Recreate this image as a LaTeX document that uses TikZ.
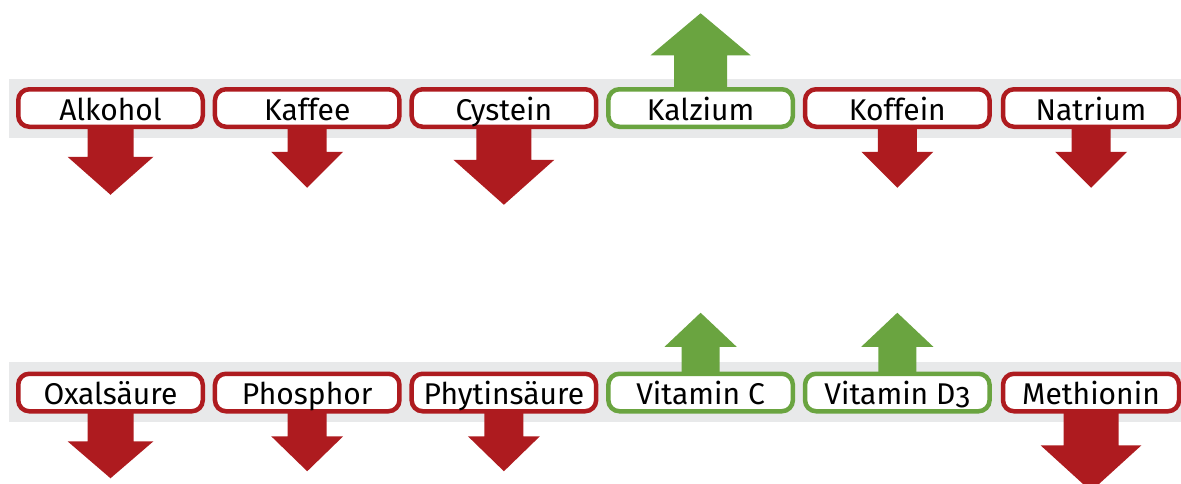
\documentclass[tikz,border=0pt]{standalone}
\usepackage{fontspec}
\setmainfont{Fira Sans}
\usetikzlibrary{backgrounds}
\definecolor{redc}{RGB}{174,27,31}
\definecolor{greenc}{RGB}{106,164,64}
\definecolor{bandc}{RGB}{232,233,234}

% down arrow below a box: node, shaft width, head width, head top, tip
\newcommand\dropdown[5]{%
  \begin{scope}[shift={(#1.south)}]
    \fill[redc] (-#2/2,-12) -- (#2/2,-12) -- (#2/2,#4) -- (#3/2,#4) -- (0,#5)
      -- (-#3/2,#4) -- (-#2/2,#4) -- cycle;
  \end{scope}}
% up arrow above a box: node, shaft width, head width, head base, tip
\newcommand\riseup[5]{%
  \begin{scope}[shift={(#1.north)}]
    \fill[greenc] (-#2/2,12) -- (#2/2,12) -- (#2/2,-#4) -- (#3/2,-#4) -- (0,-#5)
      -- (-#3/2,-#4) -- (-#2/2,-#4) -- cycle;
  \end{scope}}

\begin{document}
\begin{tikzpicture}[x=1pt,y=-1pt,
  labelbox/.style={draw, line width=4.5pt, rounded corners=11pt, fill=white,
    minimum width=184.5pt, minimum height=37.5pt, inner sep=0pt, outer sep=0pt,
    text height=24pt, text depth=0pt, font=\fontsize{30}{36}\selectfont},
  lastcol/.style={minimum width=176pt},
  redbox/.style={labelbox, draw=redc},
  greenbox/.style={labelbox, draw=greenc}]

\useasboundingbox (0,0) rectangle (1181,483);

% first row
\node[redbox]   (alk) at (110.5,108) {Alkohol};
\node[redbox]   (kaf) at (307.2,108) {Kaffee};
\node[redbox]   (cys) at (503.9,108) {Cystein};
\node[greenbox] (kal) at (700.6,108) {Kalzium};
\node[redbox]   (kof) at (897.3,108) {Koffein};
\node[redbox,lastcol] (nat) at (1091,108) {Natrium};

% second row
\node[redbox]   (oxa) at (110.5,392.5) {Oxalsäure};
\node[redbox]   (pho) at (307.2,392.5) {Phosphor};
\node[redbox]   (phy) at (503.9,392.5) {Phytinsäure};
\node[greenbox] (vic) at (700.6,392.5) {Vitamin C};
\node[greenbox] (vid) at (897.3,392.5) {Vitamin D{\addfontfeature{Numbers=OldStyle}3}};
\node[redbox,lastcol] (met) at (1091,392.5) {Methionin};

\begin{pgfonlayer}{background}
  % grey bands behind the rows
  \fill[bandc] (9,79) rectangle (1181,138);
  \fill[bandc] (9,362) rectangle (1181,422);

  \dropdown{alk}{46}{86}{30}{68}
  \dropdown{kaf}{39}{72}{25}{61}
  \dropdown{cys}{55}{101}{33}{78}
  \riseup{kal}{53}{100}{34}{76}
  \dropdown{kof}{39}{72}{25}{61}
  \dropdown{nat}{39}{72}{25}{61}

  \dropdown{oxa}{46}{86}{30}{67}
  \dropdown{pho}{39}{72}{25}{60}
  \dropdown{phy}{39}{72}{25}{60}
  \riseup{vic}{38}{72}{27}{61}
  \riseup{vid}{38}{72}{27}{61}
  \dropdown{met}{55}{101}{34}{80}
\end{pgfonlayer}
\end{tikzpicture}
\end{document}
